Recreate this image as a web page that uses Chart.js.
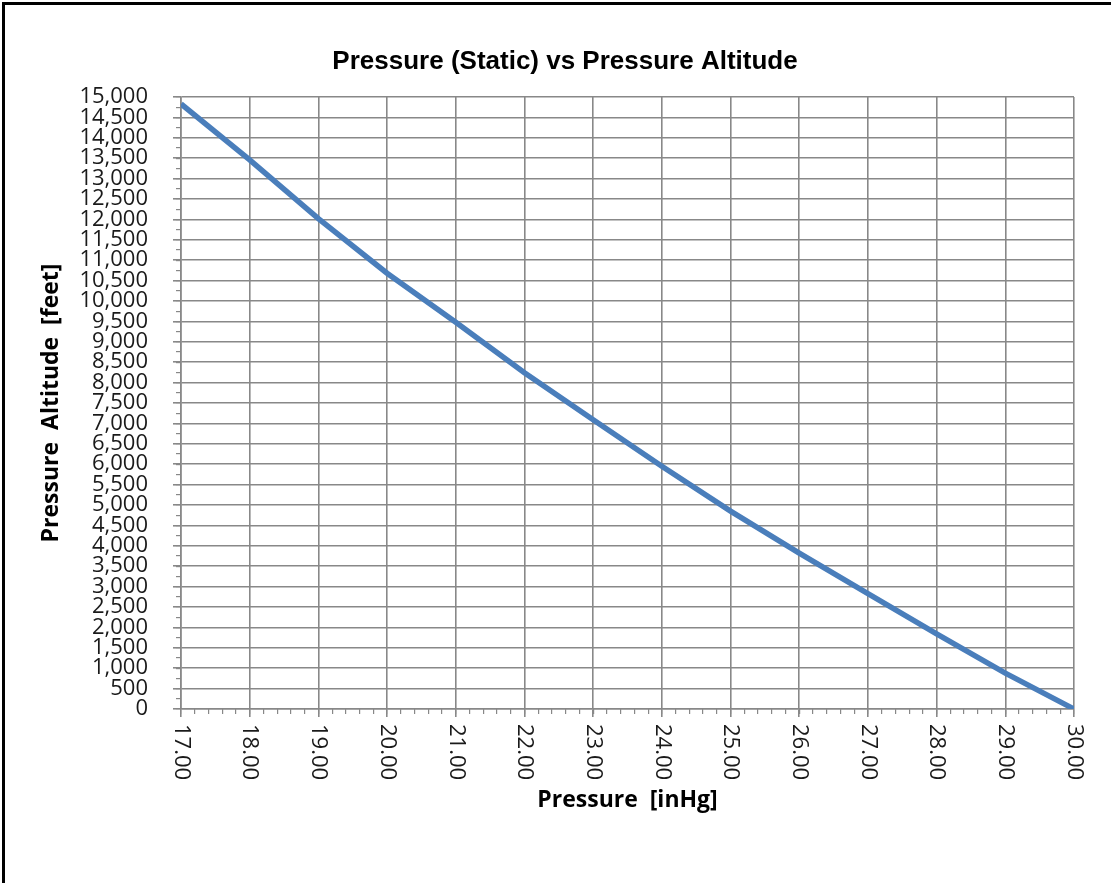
<!DOCTYPE html>
<html>
<head>
<meta charset="utf-8">
<title>Pressure (Static) vs Pressure Altitude</title>
<script src="https://cdn.jsdelivr.net/npm/chart.js@4.4.0/dist/chart.umd.min.js"></script>
<style>
  html, body { margin: 0; padding: 0; background: #fff; }
  canvas { display: block; }
</style>
</head>
<body>
<canvas id="altChart" width="1111" height="883"></canvas>
<script>
// valores
var pressure = [17, 18, 19, 20, 21, 22, 23, 24, 25, 26, 27, 28, 29, 30];
var altitude = [14830, 13460, 12020, 10680, 9480, 8240, 7090, 5950, 4850, 3820, 2830, 1840, 880, 0];

var chartTitle = 'Pressure (Static) vs Pressure Altitude';
var xTitle = 'Pressure  [inHg]';
var yTitle = 'Pressure  Altitude  [feet]';

var gridColor = '#888888';
var textColor = '#1a1a1a';

// desenha borda, título, rótulos do eixo x (girados) e títulos dos eixos
var decorPlugin = {
  id: 'decor',
  beforeDraw: function (chart) {
    var c = chart.ctx;
    c.save();
    c.fillStyle = '#fff';
    c.fillRect(0, 0, chart.width, chart.height);
    c.fillStyle = '#000';
    c.fillRect(2, 2, chart.width - 2, 3);
    c.fillRect(2, 2, 3, chart.height - 2);
    c.restore();
  },
  afterDraw: function (chart) {
    var c = chart.ctx;
    var xs = chart.scales.x;
    var area = chart.chartArea;
    c.save();
    c.fillStyle = '#000';
    c.font = 'bold 26px "Liberation Sans", Arial, sans-serif';
    c.textAlign = 'center';
    c.textBaseline = 'middle';
    c.fillText(chartTitle, 565, 62);

    c.fillStyle = textColor;
    c.font = '22px "Open Sans"';
    c.textAlign = 'left';
    xs.ticks.forEach(function (t) {
      c.save();
      c.translate(xs.getPixelForValue(t.value), area.bottom + 15);
      c.rotate(Math.PI / 2);
      c.fillText(t.value.toFixed(2), 0, 0);
      c.restore();
    });

    c.fillStyle = '#000';
    c.font = 'bold 23px "Open Sans"';
    c.textAlign = 'center';
    c.fillText(xTitle, (area.left + area.right) / 2, 800);

    c.translate(51, (area.top + area.bottom) / 2);
    c.rotate(-Math.PI / 2);
    c.fillText(yTitle, 0, 0);
    c.restore();
  }
};

var ctx = document.getElementById('altChart').getContext('2d');

var altChart = new Chart(ctx, {
  type: 'line',
  data: {
    labels: pressure,
    datasets: [{
      label: 'Pressure Altitude',
      data: pressure.map(function (p, i) { return { x: p, y: altitude[i] }; }),
      borderColor: '#4a7ebb',
      backgroundColor: '#4a7ebb',
      borderWidth: 5.5,
      pointRadius: 0,
      fill: false,
      tension: 0
    }]
  },
  options: {
    responsive: false,
    animation: false,
    layout: {
      padding: { left: 0, right: 37, top: 97, bottom: 0 }
    },
    plugins: {
      legend: { display: false },
      tooltip: { enabled: false },
      title: { display: false }
    },
    scales: {
      x: {
        type: 'linear',
        position: 'bottom',
        min: 17,
        max: 30,
        ticks: { stepSize: 1, display: false },
        grid: { color: gridColor, lineWidth: 1.6, tickLength: 8 },
        border: { color: gridColor, width: 1.6 },
        afterFit: function (scale) { scale.height = 174; }
      },
      xMinor: {
        type: 'linear',
        position: 'bottom',
        weight: -1,
        min: 17,
        max: 30,
        ticks: { stepSize: 0.2, display: false, autoSkip: false },
        grid: { drawOnChartArea: false, color: gridColor, lineWidth: 1.2, tickLength: 5 },
        border: { display: false },
        afterFit: function (scale) { scale.height = 0; }
      },
      y: {
        type: 'linear',
        position: 'left',
        min: 0,
        max: 15000,
        ticks: {
          stepSize: 500,
          autoSkip: false,
          padding: 25,
          color: textColor,
          font: { family: '"Open Sans", sans-serif', size: 22 },
          callback: function (v) { return v.toLocaleString('en-US'); }
        },
        grid: { color: gridColor, lineWidth: 1.6, tickLength: 8 },
        border: { color: gridColor, width: 1.6 },
        afterFit: function (scale) { scale.width = 181; }
      },
      yMinor: {
        type: 'linear',
        position: 'left',
        weight: -1,
        min: 0,
        max: 15000,
        ticks: { stepSize: 250, display: false, autoSkip: false },
        grid: { drawOnChartArea: false, color: gridColor, lineWidth: 1.2, tickLength: 5 },
        border: { display: false },
        afterFit: function (scale) { scale.width = 0; }
      }
    }
  },
  plugins: [decorPlugin]
});
</script>
</body>
</html>
